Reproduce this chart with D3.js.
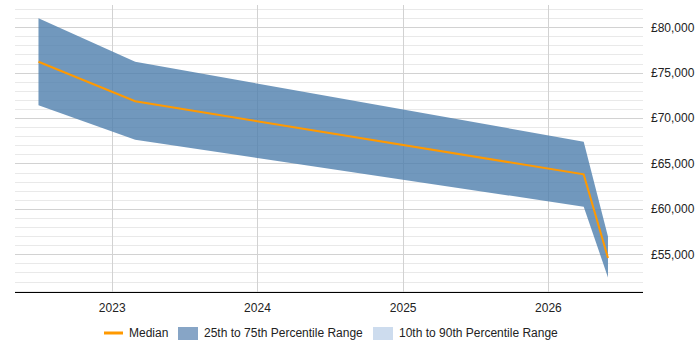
<!DOCTYPE html>
<html>
<head>
<meta charset="utf-8">
<script src="https://cdn.jsdelivr.net/npm/d3@7"></script>
<style>
  body { margin: 0; background: #fff; }
  text { font-family: "Liberation Sans", Arial, sans-serif; }
</style>
</head>
<body>
<div class="canvas"></div>
<script>
// salary percentiles over time
const dates = ['2022-07-01', '2023-03-01', '2026-04-01', '2026-06-01'];
const p25 = [71400, 67600, 60250, 52450];
const median = [76200, 71850, 63800, 54600];
const p75 = [81000, 76200, 67400, 56950];
const yearTicks = ['2023', '2024', '2025', '2026'];
const legendLabels = ['Median', '25th to 75th Percentile Range', '10th to 90th Percentile Range'];

const parse = d3.timeParse('%Y-%m-%d');
const data = dates.map((d, i) => ({ date: parse(d), lo: p25[i], mid: median[i], hi: p75[i] }));

const dims = { width: 700, height: 350 };
const plot = { left: 15, right: 643, top: 5, bottom: 292 };

const svg = d3.select('.canvas')
    .append('svg')
    .attr('width', dims.width)
    .attr('height', dims.height);

const x = d3.scaleTime()
    .domain([new Date(2022, 4, 3), new Date(2026, 7, 28)])
    .range([plot.left, plot.right]);

const y = d3.scaleLinear()
    .domain([50850, 82450])
    .range([plot.bottom, plot.top]);

// horizontal grid: minor every 1000, major every 5000
const minor = d3.range(51000, 82001, 1000);
svg.append('g').selectAll('line')
    .data(minor)
    .join('line')
    .attr('x1', plot.left)
    .attr('x2', plot.right)
    .attr('y1', d => Math.round(y(d)) + 0.5)
    .attr('y2', d => Math.round(y(d)) + 0.5)
    .attr('stroke', d => d % 5000 === 0 ? '#d2d2d2' : '#e9e9e9')
    .attr('stroke-width', 1);

// vertical grid at year starts
const yearDates = yearTicks.map(t => d3.timeParse('%Y')(t));
svg.append('g').selectAll('line')
    .data(yearDates)
    .join('line')
    .attr('x1', d => Math.round(x(d)) + 0.5)
    .attr('x2', d => Math.round(x(d)) + 0.5)
    .attr('y1', plot.top)
    .attr('y2', plot.bottom)
    .attr('stroke', '#d2d2d2');

// percentile band
const area = d3.area()
    .x(d => x(d.date))
    .y0(d => y(d.lo))
    .y1(d => y(d.hi));

svg.append('path')
    .datum(data)
    .attr('d', area)
    .attr('fill', '#4e7eac')
    .attr('fill-opacity', 0.8);

// median line
const line = d3.line()
    .x(d => x(d.date))
    .y(d => y(d.mid));

svg.append('path')
    .datum(data)
    .attr('d', line)
    .attr('fill', 'none')
    .attr('stroke', '#ff9900')
    .attr('stroke-width', 2);

// x axis
const xAxis = d3.axisBottom(x)
    .tickValues(yearDates)
    .tickFormat(d3.timeFormat('%Y'))
    .tickSize(0)
    .tickPadding(11);

const gx = svg.append('g')
    .attr('transform', `translate(0, ${plot.bottom})`)
    .call(xAxis);
gx.select('.domain').attr('stroke', '#000').attr('stroke-width', 1.2)
    .attr('d', `M${plot.left},0.5H${plot.right}`);
gx.selectAll('text').attr('font-size', 12).attr('fill', '#222')
    .attr('font-family', '"Liberation Sans", Arial, sans-serif');

// y axis on right
const yAxis = d3.axisRight(y)
    .tickValues(d3.range(55000, 80001, 5000))
    .tickFormat(d => '£' + d3.format(',')(d))
    .tickSize(0)
    .tickPadding(8);

const gy = svg.append('g')
    .attr('transform', `translate(${plot.right}, 0)`)
    .call(yAxis);
gy.select('.domain').remove();
gy.selectAll('text').attr('font-size', 12).attr('fill', '#222')
    .attr('font-family', '"Liberation Sans", Arial, sans-serif');

// legend
const legend = svg.append('g').attr('transform', 'translate(0, 333)');
const items = [
    { x: 104, type: 'line', color: '#ff9900' },
    { x: 178, type: 'rect', color: '#87a5c6' },
    { x: 373, type: 'rect', color: '#cddcee' }
];
items.forEach((it, i) => {
    if (it.type === 'line') {
        legend.append('line')
            .attr('x1', it.x).attr('x2', it.x + 19)
            .attr('y1', 0).attr('y2', 0)
            .attr('stroke', it.color).attr('stroke-width', 3);
    } else {
        legend.append('rect')
            .attr('x', it.x).attr('y', -6)
            .attr('width', 20).attr('height', 13)
            .attr('fill', it.color);
    }
    legend.append('text')
        .attr('x', it.x + (it.type === 'line' ? 25 : 26))
        .attr('y', 0)
        .attr('dy', '0.35em')
        .attr('font-size', 12)
        .attr('fill', '#222')
        .text(legendLabels[i]);
});
</script>
</body>
</html>
